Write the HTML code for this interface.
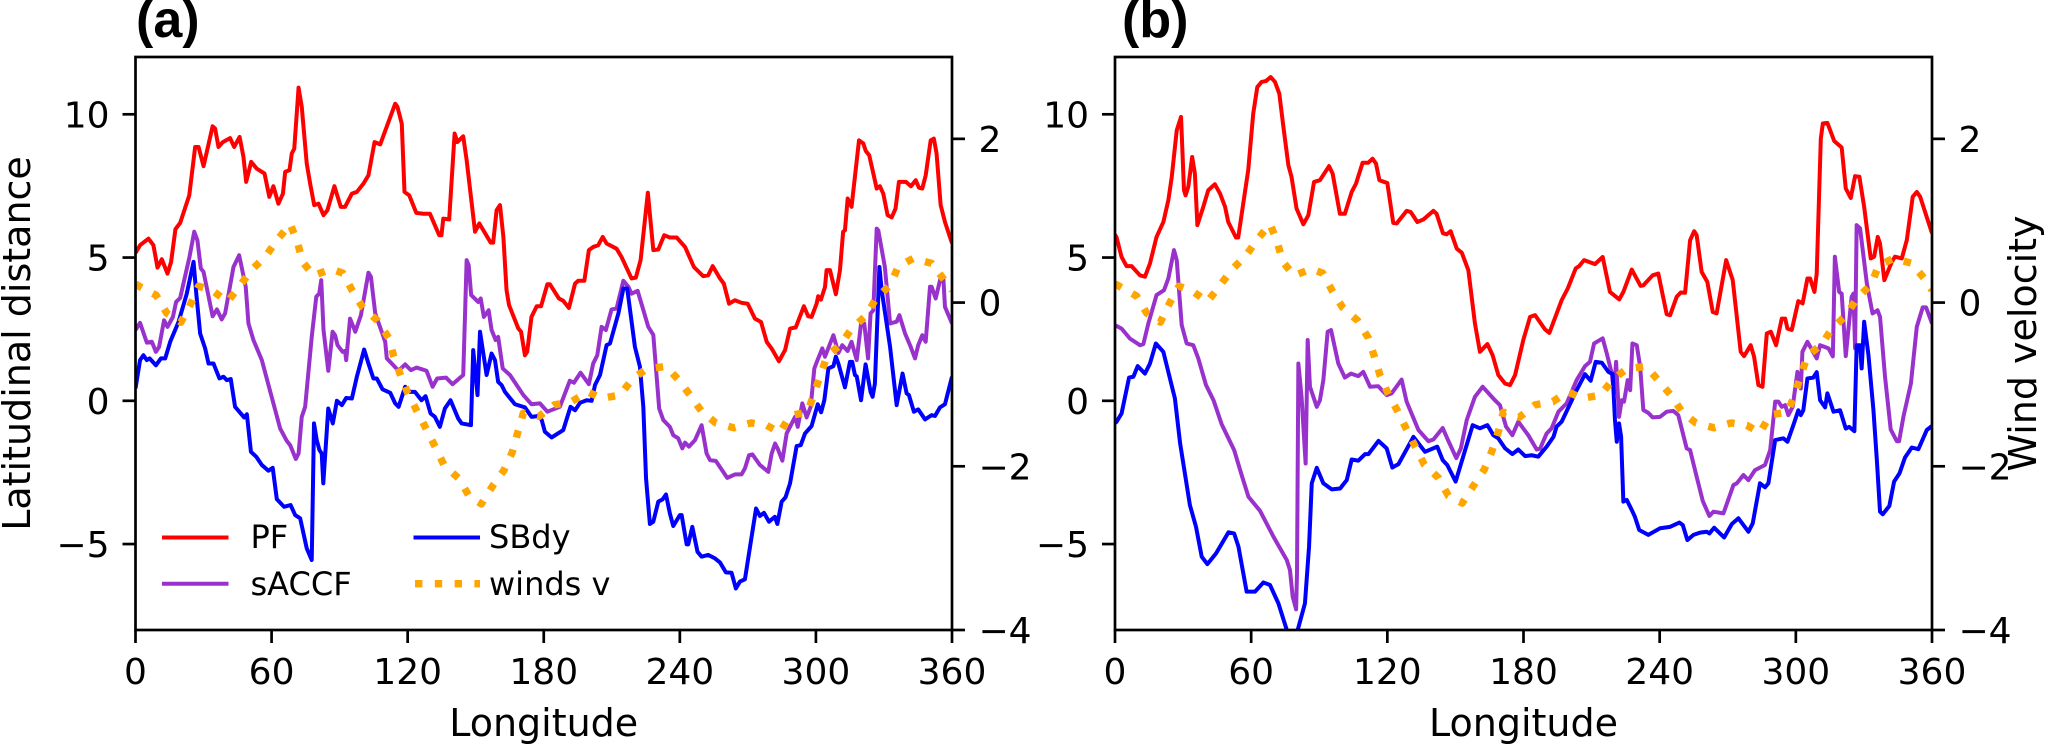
<!DOCTYPE html>
<html lang="en">
<head>
<meta charset="utf-8">
<title>Latitudinal distance and wind velocity by longitude</title>
<style>
html,body{margin:0;padding:0;background:#fff;width:2067px;height:745px;overflow:hidden}
svg{display:block}
text{font-family:"DejaVu Sans","Liberation Sans",sans-serif;fill:#000}
text.panel-title{font-family:"Liberation Sans",sans-serif;font-weight:bold}
</style>
</head>
<body>
<svg id="figure" xmlns="http://www.w3.org/2000/svg" width="2067" height="745" viewBox="0 0 2067 745">
  <defs>
    <clipPath id="clip-a"><rect x="135.5" y="57" width="816.5" height="573"/></clipPath>
    <clipPath id="clip-b"><rect x="1115" y="57" width="817" height="573"/></clipPath>
  </defs>
  <rect width="2067" height="745" fill="#fff"/>
  <g id="panel-a"></g>
  <g id="panel-b"></g>
  <text class="panel-title" x="136" y="37" font-size="52">(a)</text>
  <text class="panel-title" x="1122" y="37" font-size="52">(b)</text>
  <text x="543.7" y="736" font-size="38" text-anchor="middle">Longitude</text>
  <text x="1523.5" y="736" font-size="38" text-anchor="middle">Longitude</text>
  <text transform="translate(30,343.5) rotate(-90)" font-size="38" text-anchor="middle">Latitudinal distance</text>
  <text transform="translate(2036,343.5) rotate(-90)" font-size="38" text-anchor="middle">Wind velocity</text>
  <g>
    <line x1="162" y1="537.5" x2="228.5" y2="537.5" stroke="#ff0000" stroke-width="4"/>
    <text x="250.5" y="548" font-size="32">PF</text>
    <line x1="162" y1="583.7" x2="228.5" y2="583.7" stroke="#9932cc" stroke-width="4"/>
    <text x="250.5" y="595" font-size="32">sACCF</text>
    <line x1="413.5" y1="537.5" x2="480" y2="537.5" stroke="#0000ff" stroke-width="4"/>
    <text x="489" y="548" font-size="32">SBdy</text>
    <line x1="415" y1="583.7" x2="480" y2="583.7" stroke="#ffa500" stroke-width="7.4" stroke-dasharray="7.4 12.4"/>
    <text x="489" y="595" font-size="32">winds v</text>
  </g>
</svg>
<script>
const xTicks = [0, 60, 120, 180, 240, 300, 360];
const yLeftTicks = [-5, 0, 5, 10];
const yRightTicks = [-4, -2, 0, 2];
const xDomain = [0, 360];
const yLeftDomain = [-8, 12];
const yRightDomain = [-4, 3];

const pfA = [[0,5.16],[2,5.43],[5.7,5.66],[7.9,5.43],[9.7,4.65],[11.6,4.94],[14.1,4.44],[15.7,4.85],[17.6,5.99],[19.7,6.21],[23.7,7.17],[26.3,8.86],[27.8,8.86],[30,8.19],[34,9.58],[35.1,9.5],[36.6,8.86],[38.5,9.03],[41.7,9.17],[43.5,8.86],[45.9,9.21],[47.6,8.51],[48.8,7.64],[51,8.34],[53.5,8.1],[56.9,7.93],[59,7.12],[60.8,7.49],[63,6.88],[65,7.23],[66,7.99],[67.9,8.05],[68.9,8.63],[70,8.8],[71.9,10.93],[73.3,10.26],[75.5,8.28],[77,7.58],[78.8,6.83],[80.7,6.88],[82.9,6.48],[84.6,6.65],[87.7,7.49],[90.5,6.77],[92.4,6.77],[95.4,7.23],[97.6,7.29],[100.5,7.58],[102.7,7.87],[105.4,9.03],[107.9,8.95],[114.5,10.37],[115.5,10.26],[117.4,9.67],[118.6,7.29],[120.7,7.17],[123.8,6.56],[126.9,6.53],[129.8,6.53],[133.9,5.78],[134.9,5.78],[135.7,6.36],[138.3,6.33],[140.7,9.33],[141.9,9.03],[144.5,9.23],[146,8.4],[149.7,5.9],[151.6,6.19],[156.6,5.52],[157.7,5.52],[159.2,6.65],[160.7,6.83],[162.2,5.72],[163.6,3.86],[164.7,3.34],[168.8,2.52],[170,2.41],[171.7,1.59],[172.7,1.71],[174.6,2.93],[176.9,3.3],[178.8,3.3],[181.6,4.07],[182.7,4.07],[186.7,3.57],[188.6,3.49],[191.1,3.24],[193.8,4.09],[195.2,4.19],[197.9,4.19],[199.9,5.26],[201.8,5.37],[204,5.43],[206,5.72],[207.7,5.49],[212.1,5.31],[214.3,5.02],[218.7,4.27],[220.6,4.3],[222.7,4.91],[225.9,7.26],[228.3,5.26],[230.5,5.28],[233.1,5.78],[235.6,5.7],[238.6,5.7],[242.3,5.37],[246.2,4.67],[250.3,4.35],[252.5,4.38],[254.5,4.7],[257.7,4.27],[259.4,4.09],[261.7,3.39],[264.3,3.51],[267.2,3.42],[269.9,3.39],[273.1,2.87],[275.8,2.75],[278.3,2.06],[280.5,1.82],[283.7,1.38],[286.4,1.77],[288.6,2.52],[291.1,2.56],[294.7,3.3],[296.6,2.95],[298.1,2.93],[300.3,3.39],[301,3.65],[302.2,3.53],[304,3.97],[304.7,4.56],[306.2,4.56],[308.8,3.72],[310.6,4.56],[312,5.9],[312.8,5.95],[314,7.06],[315.7,6.77],[319,9.09],[320.9,8.98],[322,8.72],[323.5,8.57],[326.8,7.41],[328.2,7.49],[329.7,7.23],[331.6,6.48],[333.4,6.4],[335.1,6.71],[336.6,7.64],[339.7,7.64],[341.9,7.49],[344,7.7],[345.4,7.44],[346.9,7.41],[348.4,7.87],[350.6,9.09],[352,9.15],[353.2,8.63],[355,6.83],[356.9,6.24],[360,5.5]];

const saccfA = [[0,2.47],[2,2.72],[5,2.03],[7.2,2.06],[9,1.71],[10.4,1.88],[12.6,2.81],[14.1,2.58],[16.5,2.93],[17.9,3.45],[19.7,3.59],[23.8,5.02],[25.9,5.9],[27.3,5.6],[28.8,4.62],[30,4.5],[34,2.95],[35.9,3.19],[38,2.84],[39.5,3.05],[43.2,4.67],[45.7,5.08],[48.6,3.98],[49.8,2.7],[52,2.12],[55.7,1.42],[60.8,-0.09],[63.8,-0.97],[66.7,-1.4],[68.2,-1.55],[70.7,-2.03],[71.9,-1.84],[73.3,-0.56],[74.8,-0.21],[77.7,2.23],[79.7,3.63],[81,3.74],[81.9,4.21],[82.9,2.47],[85,1.05],[86.9,2.41],[88,2.29],[89.1,1.94],[91.3,1.71],[92.4,1.74],[92.9,1.42],[94.6,2.87],[96.9,2.41],[99.4,2.99],[102.7,4.47],[103.8,4.33],[105.7,3.05],[110.1,2.06],[110.8,1.48],[116,1.05],[118.9,1.27],[121.4,1.07],[123.9,1.16],[128.3,1.05],[131,0.49],[133,0.78],[136.9,0.81],[139.8,0.58],[144.5,0.9],[146,4.91],[146.9,4.73],[148,3.69],[151.1,3.45],[152.2,3.57],[153.6,2.93],[155.7,3.16],[157,2.47],[158.8,2.12],[159.9,2.23],[161.9,1.13],[165.1,0.9],[171,0.2],[174.6,-0.12],[178.3,-0.09],[181.6,-0.38],[187.1,-0.21],[191.5,0.7],[193.3,0.63],[196.2,0.98],[199.9,0.58],[201.8,1.3],[203.6,1.59],[205.5,2.58],[207.4,2.47],[209.9,3.19],[212.1,3.22],[215.1,4.19],[217.3,3.98],[218.7,3.74],[221.4,3.84],[226.1,2.58],[228.3,2.3],[230.9,-0.27],[232.7,-0.67],[235.6,-0.91],[237.1,-1.2],[239.3,-1.31],[241.1,-1.66],[242.3,-1.46],[244,-1.6],[246.7,-1.37],[249.6,-0.85],[251.8,-1.84],[253.3,-2.07],[255.9,-2.1],[260.9,-2.69],[264.3,-2.57],[267.2,-2.57],[268.7,-2.36],[270.5,-1.9],[272,-1.87],[275.3,-2.24],[279,-2.48],[280.5,-1.84],[282,-1.49],[283.1,-1.66],[285.2,-2.09],[287.1,-1.14],[290.8,-0.56],[292,-0.91],[294,-0.09],[295.9,-0.58],[297.7,-0.21],[299.3,1.13],[300.6,1.4],[302.8,1.83],[304,1.54],[307.7,2.29],[309.9,1.67],[311.6,1.94],[314,1.74],[315.7,2.06],[318,1.42],[319.9,2.7],[321.3,2.7],[323,1.48],[324.1,3.05],[325.3,3.16],[326.8,6.01],[327.5,5.95],[330.4,4.67],[332.7,2.7],[335.6,2.76],[336.8,2.99],[339.3,2.35],[341.5,1.94],[343.7,1.48],[345.1,1.94],[346.9,2.29],[348.4,2.06],[350.3,3.98],[351,3.98],[352.8,3.57],[355,4.3],[356.2,4.27],[356.9,3.28],[360,2.7]];

const sbdyA = [[0,0.43],[2,1.42],[3.5,1.59],[5,1.42],[6.2,1.48],[9,1.24],[11.2,1.48],[13.1,1.48],[15.3,2.06],[19,2.76],[22.6,3.74],[25.6,4.85],[26.8,3.74],[28.5,2.35],[30.7,1.83],[32.2,1.3],[34.4,1.3],[37,0.78],[38.8,0.84],[40.3,0.72],[42,0.76],[43.9,-0.21],[47.9,-0.58],[49.1,-0.47],[50.9,-1.78],[53.2,-1.95],[55.7,-2.24],[58.6,-2.44],[60.5,-2.34],[62.3,-3.43],[65.5,-3.7],[68.4,-3.64],[70.4,-3.99],[72.6,-4.1],[75.5,-5.15],[77.7,-5.56],[78.7,-0.79],[79.9,-1.37],[81.1,-1.72],[82.1,-1.84],[82.8,-2.88],[85,-0.27],[87,-0.79],[88.8,0],[91,-0.15],[92.9,0.1],[95.4,0.08],[97.6,0.84],[100.8,1.79],[102.7,1.3],[104.9,0.78],[106.4,0.78],[108.9,0.4],[112.3,0.28],[114.5,-0.09],[116,-0.21],[118.9,0.49],[121.1,0.31],[123.2,0.31],[126.1,0.02],[127.9,0.16],[130.1,-0.44],[132,-0.56],[134.2,-0.91],[136.4,-0.27],[138.9,0.02],[142.3,-0.62],[143.8,-0.79],[147.9,-0.85],[148.9,1.77],[150.8,0.2],[151.9,2.41],[154.8,0.9],[157,1.65],[158.5,1.42],[159.9,0.66],[161.4,0.55],[162.9,0.31],[167.3,-0.12],[171.7,-0.23],[174.6,-0.56],[177.6,-0.53],[179.1,-0.67],[180.5,-1.08],[183.5,-1.28],[188.6,-1.02],[191.8,-0.21],[193.8,-0.33],[196,-0.07],[198.9,0.02],[201.1,0],[202.6,0.55],[204.8,0.9],[207.7,1.94],[209.2,2],[212.9,3.05],[215.1,3.92],[216.8,3.92],[220.2,1.88],[222.4,1.19],[223.9,-0.21],[225.1,-2.71],[226.8,-4.3],[228.3,-4.22],[230.5,-3.52],[232.4,-3.44],[233.9,-3.27],[235.6,-3.93],[237.1,-4.37],[240,-3.99],[240.8,-3.99],[243,-5.01],[243.7,-5.01],[245.5,-4.4],[247.8,-5.27],[249.6,-5.44],[252.5,-5.38],[255.5,-5.5],[257.7,-5.64],[260.3,-5.99],[262.8,-6],[264.7,-6.55],[266.5,-6.31],[268.7,-6.23],[273.6,-3.76],[275.3,-4.02],[277.1,-3.91],[279.3,-4.22],[281.9,-4.05],[283,-4.3],[284.9,-3.52],[286.6,-3.37],[288.6,-2.88],[291.5,-1.58],[293.3,-1.55],[295.2,-1.14],[298.1,-0.88],[300.8,-0.12],[302.3,-0.4],[303.7,0.02],[305.5,1.13],[307.7,1.21],[308.8,1.54],[309.9,1.3],[312.8,0.47],[315,1.36],[316,1.36],[317.2,0.9],[318,0.85],[319.9,0.02],[321.9,1.27],[324.1,0.31],[325,0.14],[326,0.6],[328,4.67],[329,3.86],[332.7,1.88],[335.6,-0.15],[338.2,0.95],[340,0.26],[341,0.2],[343.2,-0.38],[345.1,-0.3],[348.1,-0.65],[351,-0.5],[352.5,-0.53],[354.7,-0.23],[356.9,-0.12],[360,0.84]];

const windsA = [[0,0.23],[1.5,0.2],[9.1,0.09],[13.8,-0.13],[20,-0.24],[24.1,-0.03],[27.8,0.2],[33.7,0.15],[40.6,0.01],[46.1,0.21],[51.3,0.4],[57.5,0.57],[62.6,0.77],[68.2,0.96],[71.4,0.74],[73.6,0.5],[78.5,0.33],[86.3,0.41],[91.4,0.36],[95.7,0.14],[100.2,-0.06],[106.7,-0.22],[111.6,-0.43],[113.8,-0.65],[117,-0.9],[120.1,-1.11],[124.2,-1.33],[128.3,-1.55],[132.3,-1.77],[136.1,-1.99],[142.6,-2.15],[147,-2.36],[152.5,-2.46],[157.7,-2.23],[162.4,-2.05],[166.1,-1.83],[168.5,-1.59],[171,-1.35],[178,-1.39],[184.6,-1.25],[192.3,-1.21],[199.3,-1.09],[205.5,-1.17],[213.6,-1.13],[219.2,-0.93],[225.4,-0.81],[233.9,-0.78],[239.3,-0.94],[244.5,-1.13],[249.6,-1.33],[255.8,-1.47],[263.9,-1.53],[271.4,-1.47],[278.3,-1.5],[284.1,-1.59],[288.6,-1.38],[296.2,-1.34],[299.3,-1.11],[302.1,-0.87],[305,-0.65],[311,-0.51],[315.7,-0.32],[322.1,-0.16],[326.5,0.05],[332.9,0.22],[336.3,0.44],[342.9,0.54],[351,0.48],[356.5,0.28],[360,0.15]];

const pfB = [[0,5.8],[0.7,5.7],[2.9,5.02],[5.1,4.7],[7.3,4.7],[11,4.38],[13.2,4.33],[15.4,4.79],[18.3,5.72],[21.3,6.24],[23.5,7],[25,7.81],[27.2,9.44],[29.1,9.91],[30.4,7.35],[31.1,7.17],[32.3,7.47],[34,8.51],[35.2,7.93],[36.3,6.13],[38.9,6.77],[41.1,7.35],[44,7.56],[46.3,7.23],[48.5,6.77],[49.9,6.24],[53.3,5.7],[54.3,5.7],[56.5,6.88],[58.7,8.05],[60.9,10.02],[62.7,10.95],[64.6,11.13],[66.5,11.16],[68.6,11.3],[70.5,11.13],[72.4,10.72],[74.2,9.56],[76.4,8.22],[77.8,7.81],[80,6.71],[83,6.16],[85.2,6.48],[87.7,7.64],[90.3,7.7],[94.3,8.19],[95.9,7.93],[99.1,6.53],[101.3,6.53],[104.3,7.29],[106.2,7.58],[109.1,8.31],[111.6,8.31],[113.5,8.45],[115,8.28],[116.5,7.7],[120,7.6],[122.6,6.21],[124.1,6.19],[128.5,6.63],[130.3,6.59],[133.2,6.24],[135.9,6.33],[140.3,6.63],[141.7,6.53],[144.5,5.85],[146.1,5.81],[147.9,5.92],[150.6,5.31],[152.8,5.17],[155.7,4.56],[158.6,2.7],[160.8,1.71],[164.1,1.98],[166.4,1.59],[168.9,0.9],[171.9,0.6],[174.1,0.55],[176.3,0.9],[179.9,2.12],[182.9,2.93],[185.1,2.99],[189.5,2.49],[191.4,2.37],[196.8,3.51],[199.5,3.92],[203,4.62],[204.5,4.7],[206.7,4.91],[211.5,4.77],[214.9,5.02],[218.1,3.8],[222.2,3.54],[224,3.8],[227.7,4.58],[231.6,4.01],[232.8,4.03],[236.9,4.38],[239.4,4.44],[240.9,3.86],[243.1,3.02],[244.6,2.99],[247.5,3.63],[249.3,3.78],[251.2,3.77],[253.4,5.6],[255.2,5.92],[256.3,5.78],[258.5,4.5],[261,4.15],[263.4,3.1],[265.1,3.05],[269.3,4.91],[272.2,4.21],[275.7,1.71],[277.2,1.56],[280.1,1.94],[281.6,1.54],[283.5,0.55],[285.3,0.49],[287.2,2.35],[289,2.41],[291.3,1.94],[293.8,2.87],[295.3,2.87],[296.3,2.52],[298.2,2.47],[301.1,3.48],[303,3.4],[305.1,4.27],[306.3,4.27],[308.2,3.8],[309.2,4.44],[311,9.15],[311.9,9.68],[313.9,9.7],[316.9,9.07],[320.2,8.84],[322,7.41],[324.2,7.08],[326.1,7.84],[328,7.82],[330.1,6.77],[333,4.97],[334.5,5.03],[336.1,5.72],[337.1,5.49],[339,4.21],[342.3,4.85],[343.7,5.03],[346.7,4.97],[348.9,5.61],[351.5,7.12],[353.3,7.29],[354.8,7.12],[360,5.85]];

const saccfB = [[0,2.64],[2.9,2.52],[6.6,2.17],[11,1.94],[12.5,1.98],[14.7,2.7],[18.3,3.69],[21.6,3.86],[23.5,4.27],[26,5.26],[27.2,4.91],[29.4,2.64],[31.6,2],[34.5,1.94],[36.7,1.48],[40.1,0.55],[43.5,0],[47,-0.82],[52.5,-1.72],[55.8,-2.59],[58.8,-3.35],[63.9,-3.84],[69.8,-4.74],[75.7,-5.56],[77.1,-5.91],[78.3,-6.84],[79.8,-7.28],[80.2,-6],[80.8,1.3],[82.2,0.14],[84,-2.19],[84.9,2.12],[85.9,0.49],[88.9,-0.21],[90.3,0.02],[91.8,0.72],[93.7,2.41],[95.2,2.47],[98.4,1.3],[101.3,0.81],[104,0.95],[107.2,0.86],[109.4,1.01],[112.4,0.49],[116,0.51],[119.7,0.2],[121.9,0.26],[126.3,0.74],[128.5,-0.03],[133.7,-1.02],[138.1,-1.41],[140.3,-1.35],[144.4,-0.95],[146.9,-1.4],[150.4,-2],[152.4,-1.66],[155,-0.67],[158.6,0.14],[162,0.49],[167.4,0.02],[169.6,-0.15],[172.3,-0.9],[175.1,-1.2],[177.7,-0.73],[182.1,-1.2],[185.8,-1.7],[187.3,-1.67],[190.2,-1.14],[192.4,-0.96],[195.4,-0.38],[199,-0.09],[203.4,0.72],[207.1,1.21],[209.3,1.36],[211.1,2],[214.9,2.18],[216.7,1.65],[218.9,0.95],[219.9,0.26],[220.8,1.36],[222.1,-0.56],[223.3,0.02],[224.3,-0.03],[225.9,0.72],[227,0.37],[228,2],[229.9,1.94],[231.4,1.19],[232.8,-0.32],[235,-0.42],[236.9,-0.58],[240.2,-0.56],[243.1,-0.38],[246,-0.35],[248.2,-0.5],[251.9,-1.66],[253.4,-1.72],[256.3,-2.65],[259,-3.5],[261.9,-4.02],[263.7,-3.87],[268.1,-3.93],[272.5,-2.94],[274,-2.88],[276.9,-2.59],[279.1,-2.77],[282,-2.42],[286.4,-2.24],[288.7,-1.72],[290.9,-0.03],[292.3,-0.03],[293.8,-0.21],[295.3,-0.15],[296.7,-0.5],[298.6,-0.21],[300.7,1.01],[302.2,0.43],[302.9,1.71],[305.1,2.06],[309.2,1.48],[310.7,1.94],[314.4,1.83],[316.3,1.55],[317.2,5.03],[319.1,3.8],[320.2,3.74],[322,1.56],[324.6,3.63],[325.4,3.74],[326.1,1.83],[326.8,6.13],[328.3,6.02],[331.3,4.09],[333.8,3.05],[336,3.16],[337.1,2.93],[339.3,0.84],[341.8,-1],[344.5,-1.41],[345.5,-1.41],[347.4,-0.56],[350.7,0.6],[353.3,2.58],[355.9,3.26],[357.4,3.26],[360,2.7]];

const sbdyB = [[0,-0.78],[0.7,-0.73],[2.9,-0.44],[6.2,0.81],[8.1,0.84],[10,1.21],[13.2,0.95],[15.4,1.3],[18,2],[21.3,1.71],[26.4,0.08],[28.7,-1.49],[33,-3.64],[35.7,-4.4],[38.2,-5.44],[40.7,-5.7],[44.5,-5.33],[50,-4.59],[52.5,-4.63],[54.4,-5.09],[58,-6.66],[61.7,-6.66],[65.4,-6.34],[68.3,-6.43],[72,-7.07],[75.7,-8],[78,-8.5],[80.5,-8],[83.7,-7.07],[85.5,-5.09],[86.7,-2.88],[88.9,-2.34],[91.8,-2.88],[95.5,-3.09],[99.2,-3.06],[102.1,-2.77],[104.3,-2.05],[107.2,-2.09],[110.2,-1.86],[111.7,-1.86],[116.1,-1.4],[119.7,-1.66],[122.2,-2.33],[124.9,-2.21],[131.5,-1.26],[136.6,-1.78],[142,-1.6],[144.4,-2.07],[146.4,-2.24],[150.1,-2.82],[157.6,-0.85],[160.8,-0.96],[164.1,-0.85],[166.7,-1.2],[168.9,-1.31],[171.9,-1.66],[175.1,-1.86],[177.7,-1.7],[180.7,-1.93],[183.6,-1.9],[186.5,-1.95],[190.2,-1.6],[193.2,-1.26],[194.6,-0.9],[196.8,-0.73],[203.4,0.37],[207.1,0.93],[209.6,0.7],[211.8,1.36],[214.5,1.33],[217.4,1.01],[219.3,0.93],[220.3,-0.67],[221.1,-1.43],[222.1,-0.79],[223,-1.25],[224,-3.52],[225.5,-3.46],[227.7,-3.81],[229.1,-4.05],[231,-4.51],[235,-4.68],[240.2,-4.45],[244.6,-4.4],[248.7,-4.25],[250.2,-4.34],[252.2,-4.86],[254.9,-4.68],[257.8,-4.6],[260.7,-4.57],[261.9,-4.63],[264,-4.43],[268.4,-4.77],[271.8,-4.3],[274.7,-4.1],[279.1,-4.57],[281,-4.28],[284.2,-2.88],[286.4,-3.02],[287.9,-2.88],[290.9,-1.37],[294.5,-1.31],[296.3,-1.43],[298.9,-0.85],[301.1,-0.33],[302.2,-0.5],[303.3,-0.33],[305.1,0.78],[307.7,0.81],[309.2,1],[310.7,0.02],[312.9,-0.23],[313.9,0.26],[316.6,-0.38],[319.5,-0.33],[322,-0.97],[323.5,-0.91],[325.8,-1.06],[326.8,1.94],[328.3,1.94],[329,1.13],[330.1,2.76],[332,1.59],[334.2,-0.33],[335.7,-2.07],[337.1,-3.87],[338.3,-3.96],[341.2,-3.67],[343.3,-2.82],[345.7,-2.53],[348.1,-1.98],[351.1,-1.63],[354,-1.69],[357.7,-1.02],[360,-0.88]];

const windsB = [[0,0.23],[1.8,0.2],[9.5,0.08],[14,-0.13],[20,-0.24],[24.2,0],[28.2,0.2],[34.1,0.14],[40.7,0.01],[46.3,0.21],[51.4,0.4],[57.6,0.57],[62.7,0.77],[68.3,0.96],[71.5,0.74],[73.9,0.5],[78.9,0.33],[86.4,0.41],[91.5,0.36],[95.8,0.14],[100.3,-0.06],[106.9,-0.22],[111.6,-0.43],[114.3,-0.66],[116.8,-0.89],[120.3,-1.11],[124.6,-1.33],[128.5,-1.55],[132.5,-1.77],[136.3,-1.98],[142.5,-2.14],[146.9,-2.36],[153,-2.45],[157.9,-2.24],[162.7,-2.04],[166,-1.82],[168.9,-1.58],[171.1,-1.34],[178.2,-1.4],[185.1,-1.25],[192.9,-1.21],[199.5,-1.09],[205.9,-1.17],[214,-1.13],[219.3,-0.94],[225.5,-0.81],[234,-0.78],[239.1,-0.94],[244.9,-1.13],[250,-1.34],[255.9,-1.47],[264,-1.53],[271.5,-1.47],[278.4,-1.5],[284.2,-1.59],[288.7,-1.37],[296.4,-1.34],[299.7,-1.11],[302.3,-0.88],[305.1,-0.65],[311.4,-0.51],[316.1,-0.31],[322.1,-0.16],[326.8,0.05],[333.2,0.22],[336.4,0.45],[343,0.54],[351.1,0.48],[357,0.28],[360,0.15]];

const NS = 'http://www.w3.org/2000/svg';
const AXIS_TOP = 57;
const AXIS_BOTTOM = 630;
const TICK_LEN = 13;
const AXIS_W = 2.7;
const TICK_FONT = 36;

function scale(domain, r0, r1) {
  return function (v) {
    return r0 + (v - domain[0]) / (domain[1] - domain[0]) * (r1 - r0);
  };
}
function fmt(v) {
  return v < 0 ? '\u2212' + Math.abs(v) : String(v);
}
function make(tag, attrs, parent) {
  const el = document.createElementNS(NS, tag);
  for (const k in attrs) el.setAttribute(k, attrs[k]);
  parent.appendChild(el);
  return el;
}
function drawSeries(parent, data, xs, ys, stroke, width, dash, name, clipId) {
  const d = data.map(function (p, i) {
    return (i ? 'L' : 'M') + xs(p[0]).toFixed(2) + ' ' + ys(p[1]).toFixed(2);
  }).join('');
  const attrs = {d: d, fill: 'none', stroke: stroke, 'stroke-width': width, 'stroke-linejoin': 'round', 'clip-path': 'url(#' + clipId + ')'};
  if (dash) attrs['stroke-dasharray'] = dash;
  const path = make('path', attrs, parent);
  
  
}
function drawPanel(parent, id, left, right, series) {
  const clipId = 'clip-' + id;
  const xs = scale(xDomain, left, right);
  const yL = scale(yLeftDomain, AXIS_BOTTOM, AXIS_TOP);
  const yR = scale(yRightDomain, AXIS_BOTTOM, AXIS_TOP);

  drawSeries(parent, series.pf, xs, yL, '#ff0000', 4, null, id + '-pf-line', clipId);
  drawSeries(parent, series.saccf, xs, yL, '#9932cc', 4, null, id + '-saccf-line', clipId);
  drawSeries(parent, series.sbdy, xs, yL, '#0000ff', 4, null, id + '-sbdy-line', clipId);
  drawSeries(parent, series.winds, xs, yR, '#ffa500', 7.4, '7.4 12.4', id + '-winds-line', clipId);

  const frame = make('rect', {x: left, y: AXIS_TOP, width: right - left, height: AXIS_BOTTOM - AXIS_TOP, fill: 'none', stroke: '#000', 'stroke-width': AXIS_W}, parent);
  
  

  xTicks.forEach(function (t) {
    const x = xs(t);
    const tick = make('line', {x1: x, x2: x, y1: AXIS_BOTTOM, y2: AXIS_BOTTOM + TICK_LEN, stroke: '#000', 'stroke-width': AXIS_W}, parent);
    
    
    const label = make('text', {x: x, y: AXIS_BOTTOM + 54, 'font-size': TICK_FONT, 'text-anchor': 'middle'}, parent);
    label.textContent = fmt(t);
    
    
  });
  yLeftTicks.forEach(function (t) {
    const y = yL(t);
    const tick = make('line', {x1: left - TICK_LEN, x2: left, y1: y, y2: y, stroke: '#000', 'stroke-width': AXIS_W}, parent);
    
    
    const label = make('text', {x: left - 26, y: y + 13, 'font-size': TICK_FONT, 'text-anchor': 'end'}, parent);
    label.textContent = fmt(t);
    
    
  });
  yRightTicks.forEach(function (t) {
    const y = yR(t);
    const tick = make('line', {x1: right, x2: right + TICK_LEN, y1: y, y2: y, stroke: '#000', 'stroke-width': AXIS_W}, parent);
    
    
    const label = make('text', {x: right + 26.5, y: y + 13, 'font-size': TICK_FONT}, parent);
    label.textContent = fmt(t);
    
    
  });
}
drawPanel(document.getElementById('panel-a'), 'a', 135.5, 952, {pf: pfA, saccf: saccfA, sbdy: sbdyA, winds: windsA});
drawPanel(document.getElementById('panel-b'), 'b', 1115, 1932, {pf: pfB, saccf: saccfB, sbdy: sbdyB, winds: windsB});
</script>
</body>
</html>
